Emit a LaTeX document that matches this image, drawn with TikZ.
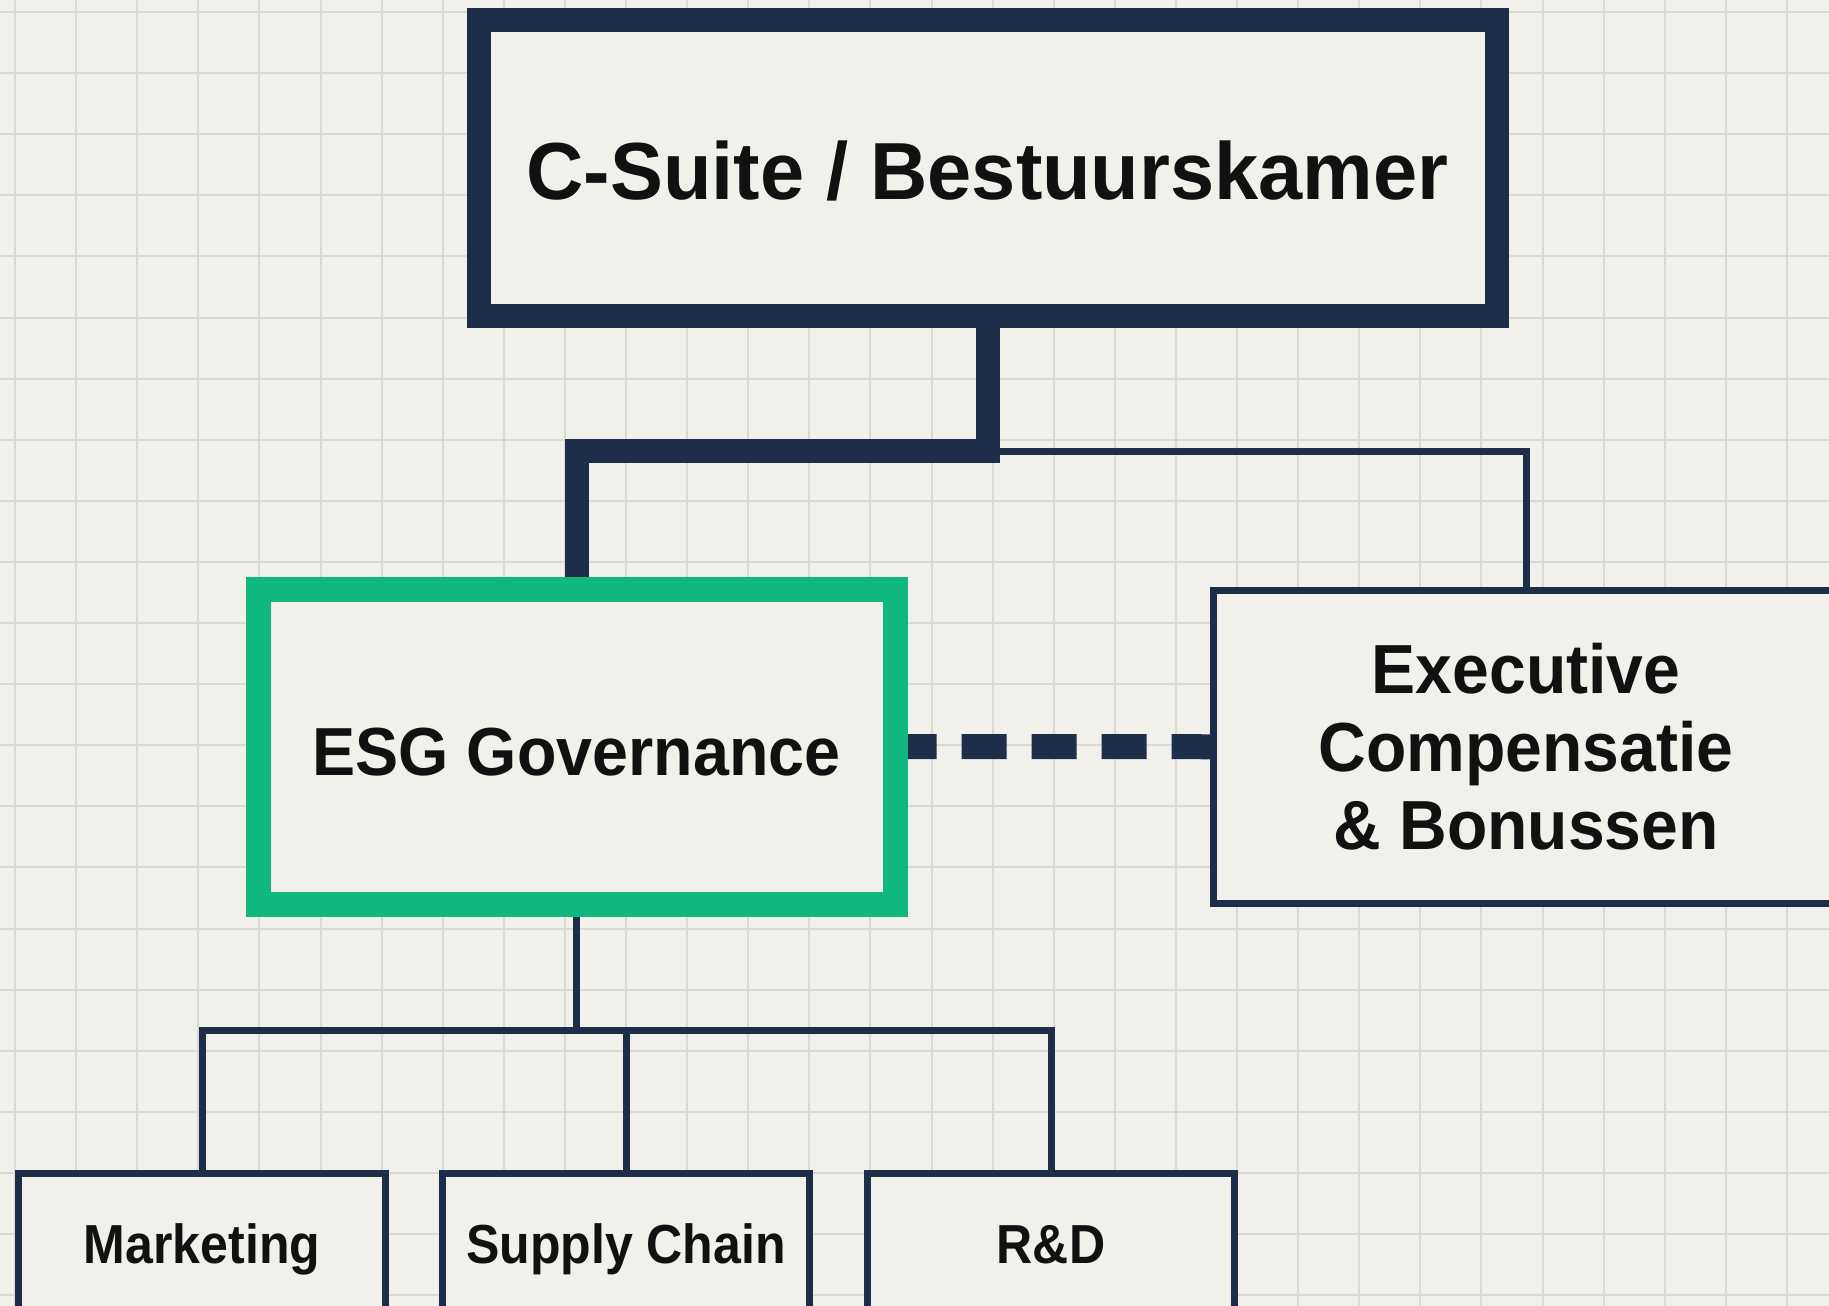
\documentclass[tikz,border=0pt]{standalone}
\usepackage{fontspec}
\setmainfont{Liberation Sans}
\newfontfamily\fontTop{Liberation Sans}[FakeStretch=0.98]
\newfontfamily\fontMid{Liberation Sans}[FakeStretch=0.95]
\newfontfamily\fontLow{Liberation Sans}[FakeStretch=0.91]

\definecolor{paper}{HTML}{F1F0EB}
\definecolor{gridline}{HTML}{DAD9D4}
\definecolor{navy}{HTML}{1E2E48}
\definecolor{esggreen}{HTML}{10B77F}
\definecolor{ink}{HTML}{111111}

\pgfdeclarelayer{gridlayer}
\pgfdeclarelayer{edges}
\pgfsetlayers{gridlayer,edges,main}

\tikzset{
  box/.style={draw=navy, fill=paper, rectangle, inner sep=0pt, text=ink},
  topbox/.style={box, line width=24pt, minimum width=1018pt, minimum height=295pt,
    font={\fontTop\bfseries\fontsize{81}{90}\selectfont}},
  greenbox/.style={box, draw=esggreen, line width=25pt, minimum width=637pt, minimum height=315pt,
    font={\fontMid\bfseries\fontsize{68}{78}\selectfont}},
  sidebox/.style={box, line width=7pt, minimum width=625pt, minimum height=313pt, align=center,
    font={\fontMid\bfseries\fontsize{69.5}{78}\selectfont}},
  unitbox/.style={box, line width=7pt, minimum width=367pt, minimum height=139pt,
    font={\fontLow\bfseries\fontsize{55}{64}\selectfont}},
  thickline/.style={draw=navy, line width=24pt},
  thinline/.style={draw=navy, line width=7pt},
  dashline/.style={draw=navy, line width=25pt, dash pattern=on 45pt off 25pt, dash phase=16pt},
}

\begin{document}
\begin{tikzpicture}[x=1pt, y=-1pt]
  \useasboundingbox (0,0) rectangle (1829,1306);

  % paper and grid
  \begin{pgfonlayer}{gridlayer}
    \fill[paper] (0,0) rectangle (1829,1306);
    \foreach \k in {0,...,29} {
      \draw[gridline, line width=2pt] ({15+61.1*\k},0) -- ({15+61.1*\k},1306);
    }
    \foreach \k in {0,...,21} {
      \draw[gridline, line width=2pt] (0,{12+61.1*\k}) -- (1829,{12+61.1*\k});
    }
  \end{pgfonlayer}

  % boxes
  \node[topbox, text height=62pt, text depth=0pt] (board) at (987.5,168)
    {C-Suite / Bestuurskamer};
  \node[greenbox, text height=57pt, text depth=0pt] (esg) at (576.5,746.5)
    {ESG Governance};
  \node[sidebox] (comp) at (1526,746.75)
    {Executive\\Compensatie\\\&~Bonussen};
  \node[unitbox, text height=41pt, text depth=0pt] (mkt) at (202,1242.5)
    {Marketing};
  \node[unitbox, text height=41pt, text depth=0pt] (sc) at (626,1242.5)
    {Supply Chain};
  \node[unitbox, text height=41pt, text depth=0pt] (rd) at (1051,1242.5)
    {R\&D};

  % junction points of the connectors
  \coordinate (split) at (987.5,451);
  \coordinate (fan) at (576.5,1030);

  % connectors
  \begin{pgfonlayer}{edges}
    \draw[thinline] (split) -| (comp.north);
    \draw[thickline] (board.south) -- (split) -| (esg.north);
    \draw[dashline] (esg.east) -- (comp.west);
    \draw[thinline] (esg.south) -- (fan);
    \draw[thinline] (mkt.north) |- (fan) -| (rd.north);
    \draw[thinline] (sc.north) -- (sc.north |- fan);
  \end{pgfonlayer}
\end{tikzpicture}
\end{document}
